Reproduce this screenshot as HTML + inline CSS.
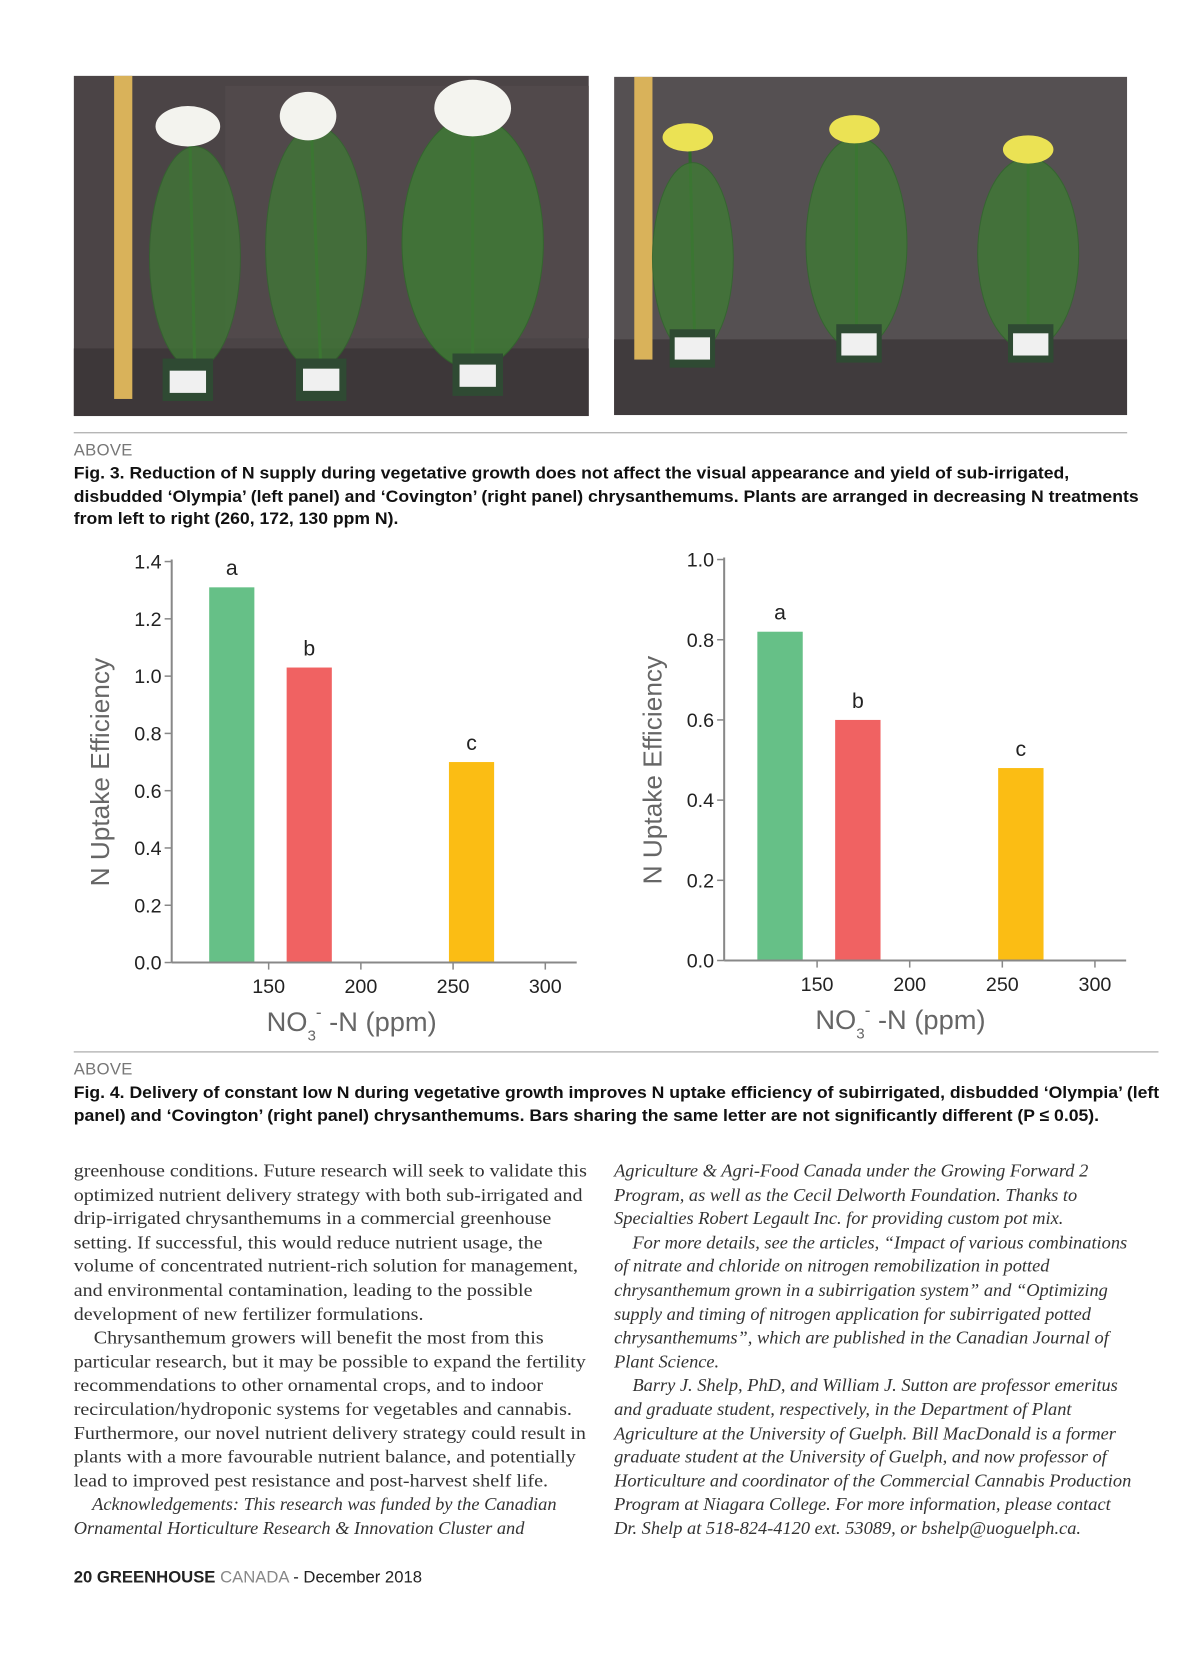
<!DOCTYPE html>
<html><head><meta charset="utf-8">
<style>
html,body{margin:0;padding:0;background:#fff;}
body{width:1200px;height:1637px;position:relative;overflow:hidden;font-family:"Liberation Sans",sans-serif;}
#wrap{position:absolute;left:0;top:0;width:1200px;height:1637px;transform:scale(1.01);transform-origin:0 0;}
.abs{position:absolute;}
.cap{font-weight:bold;font-size:16.6px;line-height:22.5px;color:#111;white-space:nowrap;transform:scaleX(1.05);transform-origin:0 0;}
.above{font-size:16.5px;color:#777;letter-spacing:0.3px;}
.rule{height:1px;background:#999;}
.col{font-family:"Liberation Serif",serif;font-size:18.2px;line-height:23.6px;color:#333;white-space:nowrap;}
.col div{height:23.6px;}
.up{transform:scaleX(1.09);transform-origin:0 0;}
.it{font-style:italic;}
</style></head><body>
<div id="wrap">
<svg class="abs" style="left:73px;top:75px" width="510" height="337">
 <rect width="510" height="337" fill="#4b4446"/>
 <rect x="150" y="10" width="360" height="250" fill="#51494b"/>
 <rect x="0" y="270" width="510" height="67" fill="#3d3739"/>
 <rect x="40" y="0" width="18" height="320" fill="#d9b25a"/>
 <g fill="#3f7a35" stroke="#2f6a2a">
  <line x1="115" y1="60" x2="120" y2="300" stroke-width="3"/>
  <line x1="235" y1="45" x2="245" y2="300" stroke-width="3"/>
  <line x1="395" y1="45" x2="395" y2="300" stroke-width="3"/>
  <ellipse cx="120" cy="180" rx="45" ry="110" opacity="0.75"/>
  <ellipse cx="240" cy="170" rx="50" ry="120" opacity="0.75"/>
  <ellipse cx="395" cy="165" rx="70" ry="125" opacity="0.85"/>
 </g>
 <ellipse cx="113" cy="50" rx="32" ry="20" fill="#f3f3ee"/>
 <ellipse cx="232" cy="40" rx="28" ry="24" fill="#f3f3ee"/>
 <ellipse cx="395" cy="32" rx="38" ry="28" fill="#f4f4ef"/>
 <g fill="#2f4a33"><rect x="88" y="280" width="50" height="42"/><rect x="220" y="280" width="50" height="42"/><rect x="375" y="275" width="50" height="42"/></g>
 <g fill="#f0f0f0"><rect x="95" y="292" width="36" height="22"/><rect x="227" y="290" width="36" height="22"/><rect x="382" y="286" width="36" height="22"/></g>
</svg>
<svg class="abs" style="left:608px;top:76px" width="508" height="335">
 <rect width="508" height="335" fill="#555052"/>
 <rect x="0" y="260" width="508" height="75" fill="#403b3d"/>
 <rect x="20" y="0" width="18" height="280" fill="#d9b25a"/>
 <g fill="#3f7a35" stroke="#2f6a2a">
  <line x1="75" y1="70" x2="80" y2="270" stroke-width="3"/>
  <line x1="240" y1="55" x2="240" y2="265" stroke-width="3"/>
  <line x1="410" y1="75" x2="410" y2="270" stroke-width="3"/>
  <ellipse cx="78" cy="180" rx="40" ry="95" opacity="0.8"/>
  <ellipse cx="240" cy="165" rx="50" ry="105" opacity="0.8"/>
  <ellipse cx="410" cy="175" rx="50" ry="95" opacity="0.8"/>
 </g>
 <ellipse cx="73" cy="60" rx="25" ry="14" fill="#ebe254"/>
 <ellipse cx="238" cy="52" rx="25" ry="14" fill="#ebe254"/>
 <ellipse cx="410" cy="72" rx="25" ry="14" fill="#ebe254"/>
 <g fill="#2f4a33"><rect x="55" y="250" width="45" height="38"/><rect x="220" y="245" width="45" height="38"/><rect x="390" y="245" width="45" height="38"/></g>
 <g fill="#f0f0f0"><rect x="60" y="258" width="35" height="22"/><rect x="225" y="254" width="35" height="22"/><rect x="395" y="254" width="35" height="22"/></g>
</svg>

<div class="abs rule" style="left:73px;top:428px;width:1043px"></div>
<div class="abs above" style="left:73px;top:437px">ABOVE</div>
<div class="abs cap" style="left:73px;top:458px">
<div>Fig. 3. Reduction of N supply during vegetative growth does not affect the visual appearance and yield of sub-irrigated,</div>
<div>disbudded ‘Olympia’ (left panel) and ‘Covington’ (right panel) chrysanthemums. Plants are arranged in decreasing N treatments</div>
<div>from left to right (260, 172, 130 ppm N).</div>
</div>

<svg id="chart" class="abs" style="left:0;top:0" width="1200" height="1040"></svg>

<div class="abs rule" style="left:73px;top:1041px;width:1074px"></div>
<div class="abs above" style="left:73px;top:1050px">ABOVE</div>
<div class="abs cap" style="left:73px;top:1071px">
<div>Fig. 4. Delivery of constant low N during vegetative growth improves N uptake efficiency of subirrigated, disbudded ‘Olympia’ (left</div>
<div>panel) and ‘Covington’ (right panel) chrysanthemums. Bars sharing the same letter are not significantly different (P ≤ 0.05).</div>
</div>

<div class="abs col" style="left:73px;top:1148px">
<div class="up">greenhouse conditions. Future research will seek to validate this</div>
<div class="up">optimized nutrient delivery strategy with both sub-irrigated and</div>
<div class="up">drip-irrigated chrysanthemums in a commercial greenhouse</div>
<div class="up">setting. If successful, this would reduce nutrient usage, the</div>
<div class="up">volume of concentrated nutrient-rich solution for management,</div>
<div class="up">and environmental contamination, leading to the possible</div>
<div class="up">development of new fertilizer formulations.</div>
<div class="up">&nbsp;&nbsp;&nbsp;&nbsp;Chrysanthemum growers will benefit the most from this</div>
<div class="up">particular research, but it may be possible to expand the fertility</div>
<div class="up">recommendations to other ornamental crops, and to indoor</div>
<div class="up">recirculation/hydroponic systems for vegetables and cannabis.</div>
<div class="up">Furthermore, our novel nutrient delivery strategy could result in</div>
<div class="up">plants with a more favourable nutrient balance, and potentially</div>
<div class="up">lead to improved pest resistance and post-harvest shelf life.</div>
<div class="it">&nbsp;&nbsp;&nbsp;&nbsp;Acknowledgements: This research was funded by the Canadian</div>
<div class="it">Ornamental Horticulture Research &amp; Innovation Cluster and</div>
</div>
<div class="abs col it" style="left:608px;top:1148px">
<div>Agriculture &amp; Agri-Food Canada under the Growing Forward 2</div>
<div>Program, as well as the Cecil Delworth Foundation. Thanks to</div>
<div>Specialties Robert Legault Inc. for providing custom pot mix.</div>
<div>&nbsp;&nbsp;&nbsp;&nbsp;For more details, see the articles, “Impact of various combinations</div>
<div>of nitrate and chloride on nitrogen remobilization in potted</div>
<div>chrysanthemum grown in a subirrigation system” and “Optimizing</div>
<div>supply and timing of nitrogen application for subirrigated potted</div>
<div>chrysanthemums”, which are published in the Canadian Journal of</div>
<div>Plant Science.</div>
<div>&nbsp;&nbsp;&nbsp;&nbsp;Barry J. Shelp, PhD, and William J. Sutton are professor emeritus</div>
<div>and graduate student, respectively, in the Department of Plant</div>
<div>Agriculture at the University of Guelph. Bill MacDonald is a former</div>
<div>graduate student at the University of Guelph, and now professor of</div>
<div>Horticulture and coordinator of the Commercial Cannabis Production</div>
<div>Program at Niagara College. For more information, please contact</div>
<div>Dr. Shelp at 518-824-4120 ext. 53089, or bshelp@uoguelph.ca.</div>
</div>

<div class="abs" style="left:73px;top:1553px;font-size:16.5px;color:#222"><b>20 GREENHOUSE</b> <span style="color:#888">CANADA</span> - December 2018</div>
</div>
<script>
const categories = [130, 172, 260];
const leftValues = [1.31, 1.03, 0.70];
const rightValues = [0.82, 0.60, 0.48];
const letters = ['a', 'b', 'c'];
const leftYTicks = [0.0, 0.2, 0.4, 0.6, 0.8, 1.0, 1.2, 1.4];
const rightYTicks = [0.0, 0.2, 0.4, 0.6, 0.8, 1.0];
const xTicks = [150, 200, 250, 300];
const colors = ['#66c087', '#f06262', '#fbbd14'];

const NS = 'http://www.w3.org/2000/svg';
const svg = document.getElementById('chart');
function mk(tag, attrs, parent) {
  const e = document.createElementNS(NS, tag);
  for (const k in attrs) e.setAttribute(k, attrs[k]);
  (parent || svg).appendChild(e);
  return e;
}
function panel(p) {
  const g = mk('g', {});
  
  
  const ymax = p.yTicks[p.yTicks.length - 1];
  const y = v => p.y0 - (v / ymax) * (p.y0 - p.yTop);
  const x = v => p.x150 + (v - 150) * p.pxPer;
  const ya = mk('line', {x1: p.xAxis, y1: p.yTop - 2, x2: p.xAxis, y2: p.y0, stroke: '#888', 'stroke-width': 2}, g);
  
  
  const xa = mk('line', {x1: p.xAxis, y1: p.y0, x2: p.xRight, y2: p.y0, stroke: '#888', 'stroke-width': 2}, g);
  
  
  p.yTicks.forEach(t => {
    mk('line', {x1: p.xAxis - 7, y1: y(t), x2: p.xAxis, y2: y(t), stroke: '#888', 'stroke-width': 1.5}, g);
    const tl = mk('text', {x: p.xAxis - 10, y: y(t) + 7, 'text-anchor': 'end', 'font-size': 19.5, fill: '#222', 'font-family': 'Liberation Sans, sans-serif'}, g);
    tl.textContent = t.toFixed(1);
    
    
  });
  xTicks.forEach(t => {
    mk('line', {x1: x(t), y1: p.y0, x2: x(t), y2: p.y0 + 7, stroke: '#888', 'stroke-width': 1.5}, g);
    const tl = mk('text', {x: x(t), y: p.y0 + 30, 'text-anchor': 'middle', 'font-size': 19.5, fill: '#222', 'font-family': 'Liberation Sans, sans-serif'}, g);
    tl.textContent = t;
    
    
  });
  const bw = 24.5 * p.pxPer;
  p.values.forEach((v, i) => {
    const r = mk('rect', {x: x(categories[i]) - bw / 2, y: y(v), width: bw, height: p.y0 - y(v) - 1, fill: colors[i]}, g);
    
    
    const lt = mk('text', {x: x(categories[i]), y: y(v) - 12, 'text-anchor': 'middle', 'font-size': 21, fill: '#222', 'font-family': 'Liberation Sans, sans-serif'}, g);
    lt.textContent = letters[i];
    
    
  });
  const yl = mk('text', {x: 0, y: 0, transform: 'translate(' + (p.xAxis - 62) + ',' + ((p.y0 + p.yTop) / 2 + 10) + ') rotate(-90)', 'text-anchor': 'middle', 'font-size': 26, fill: '#666', 'font-family': 'Liberation Sans, sans-serif'}, g);
  yl.textContent = 'N Uptake Efficiency';
  
  
  const xl = mk('text', {x: x(195), y: p.y0 + 68, 'text-anchor': 'middle', 'font-size': 27, fill: '#666', 'font-family': 'Liberation Sans, sans-serif'}, g);
  xl.innerHTML = 'NO<tspan dy="9" font-size="15">3</tspan><tspan dy="-22" font-size="17">-</tspan><tspan dy="13"> -N (ppm)</tspan>';
  
  
}
panel({name: 'olympia-chart', values: leftValues, yTicks: leftYTicks, xAxis: 170, xRight: 571, y0: 953, yTop: 556, x150: 266, pxPer: 91.3 / 50});
panel({name: 'covington-chart', values: rightValues, yTicks: rightYTicks, xAxis: 717, xRight: 1115, y0: 951, yTop: 554, x150: 809, pxPer: 91.7 / 50});
</script>
</body></html>
